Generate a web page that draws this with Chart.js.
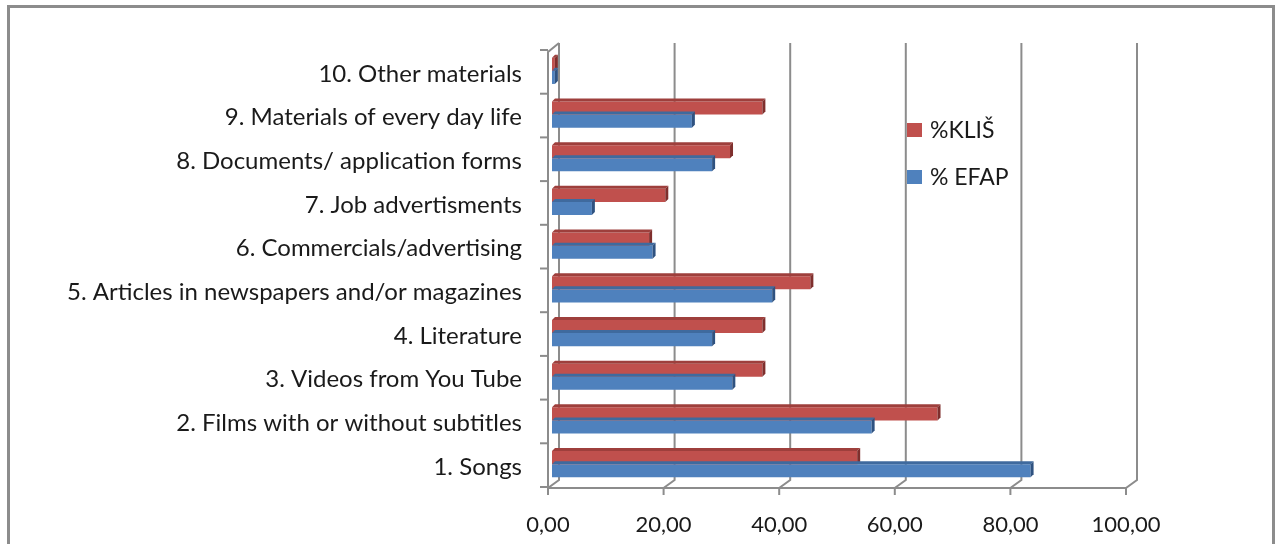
<!DOCTYPE html>
<html>
<head>
<meta charset="utf-8">
<script src="https://cdn.jsdelivr.net/npm/chart.js@4.4.0/dist/chart.umd.min.js"></script>
<style>
  html, body { margin: 0; padding: 0; background: #fff; }
  #wrap { position: relative; width: 1281px; height: 544px; overflow: hidden; }
  #frame { position: absolute; left: 7px; top: 5px; width: 1268px; height: 600px; border: 3px solid #8c8c8c; box-sizing: border-box; }
  canvas { position: absolute; left: 0; top: 0; }
</style>
</head>
<body>
<div id="wrap">
  <div id="frame"></div>
  <canvas id="myChart" width="1281" height="544"></canvas>
</div>
<script>
const categories = [
  '1. Songs',
  '2. Films with or without subtitles',
  '3. Videos from You Tube',
  '4. Literature',
  '5. Articles in newspapers and/or magazines',
  '6. Commercials/advertising',
  '7. Job advertisments',
  '8. Documents/ application forms',
  '9. Materials of every day life',
  '10. Other materials'
]
const kliš = [52.8, 66.7, 36.4, 36.4, 44.7, 16.8, 19.6, 30.8, 36.4, 0.5]
const efap = [82.8, 55.3, 31.2, 27.7, 38.1, 17.4, 6.9, 27.7, 24.2, 0.5]
const xTicks = [0, 20, 40, 60, 80, 100]

const FONT = 'Lato'
const gridColor = '#8c8c8c'

// fake 3D: top face + right side on every bar
const bars3d = {
  id: 'bars3d',
  afterDatasetsDraw(chart) {
    const ctx = chart.ctx
    const d = 3
    chart.data.datasets.forEach((ds, i) => {
      chart.getDatasetMeta(i).data.forEach(bar => {
        const top = bar.y - bar.height / 2
        const bottom = bar.y + bar.height / 2
        ctx.save()
        ctx.fillStyle = ds.topColor
        ctx.beginPath()
        ctx.moveTo(bar.base, top)
        ctx.lineTo(bar.base + d, top - d)
        ctx.lineTo(bar.x + d, top - d)
        ctx.lineTo(bar.x, top)
        ctx.closePath()
        ctx.fill()
        ctx.fillStyle = ds.sideColor
        ctx.beginPath()
        ctx.moveTo(bar.x, top)
        ctx.lineTo(bar.x + d, top - d)
        ctx.lineTo(bar.x + d, bottom - d)
        ctx.lineTo(bar.x, bottom)
        ctx.closePath()
        ctx.fill()
        ctx.restore()
      })
    })
  }
}

// back wall gridlines, floor and left wall
const walls = {
  id: 'walls',
  beforeDatasetsDraw(chart) {
    const ctx = chart.ctx
    const x = chart.scales.x
    const y = chart.scales.y
    const area = chart.chartArea
    const bx = 7, by = -6, fx = -4, fy = 2
    ctx.save()
    ctx.strokeStyle = gridColor
    ctx.lineWidth = 2
    xTicks.forEach(v => {
      const px = x.getPixelForValue(v)
      ctx.beginPath()
      ctx.moveTo(px + bx, area.top + by)
      ctx.lineTo(px + bx, area.bottom + by)
      ctx.lineTo(px + fx, area.bottom + fy)
      ctx.lineTo(px + fx, area.bottom + fy + 7)
      ctx.stroke()
    })
    // floor front edge
    ctx.beginPath()
    ctx.moveTo(x.getPixelForValue(0) + fx, area.bottom + fy)
    ctx.lineTo(x.getPixelForValue(100) + fx, area.bottom + fy)
    ctx.stroke()
    // left wall front edge + top
    const lx = x.getPixelForValue(0) + fx
    ctx.beginPath()
    ctx.moveTo(lx, area.bottom + fy)
    ctx.lineTo(lx, area.top + 3)
    ctx.lineTo(x.getPixelForValue(0) + bx, area.top + by)
    ctx.stroke()
    // category ticks on the wall
    for (let i = 0; i <= categories.length; i++) {
      const py = y.getPixelForValue(i - 0.5) + 1
      ctx.beginPath()
      ctx.moveTo(lx - 8, py)
      ctx.lineTo(lx, py)
      ctx.stroke()
    }
    ctx.restore()
  }
}

// legend sitting inside the plot
const insideLegend = {
  id: 'insideLegend',
  afterDraw(chart) {
    const ctx = chart.ctx
    const items = [[0, 130], [1, 177]]
    ctx.save()
    ctx.font = '23px ' + FONT
    ctx.textBaseline = 'middle'
    items.forEach(([i, cy]) => {
      const ds = chart.data.datasets[i]
      ctx.fillStyle = ds.backgroundColor
      ctx.fillRect(907, cy - 7, 15, 14)
      ctx.fillStyle = '#1a1a1a'
      ctx.fillText(ds.label, 930, cy + 1)
    })
    ctx.restore()
  }
}

const ctx = document.getElementById('myChart').getContext('2d')
const myChart = new Chart(ctx, {
  type: 'bar',
  data: {
    labels: categories,
    datasets: [{
      label: '%KLIŠ',
      data: kliš,
      backgroundColor: '#c0504d',
      topColor: '#9e3f3c',
      sideColor: '#7f2f2d'
    }, {
      label: '% EFAP',
      data: efap,
      backgroundColor: '#4f81bd',
      topColor: '#3f6a9e',
      sideColor: '#2f5280'
    }]
  },
  options: {
    indexAxis: 'y',
    responsive: false,
    animation: false,
    categoryPercentage: 0.6,
    barPercentage: 1,
    layout: { padding: { top: 49, right: 151, left: 0, bottom: 0 } },
    plugins: {
      legend: { display: false },
      tooltip: { enabled: false }
    },
    scales: {
      x: {
        min: 0,
        max: 100,
        afterBuildTicks: s => { s.ticks = xTicks.map(v => ({ value: v })) },
        afterFit: s => { s.height = 58 },
        grid: { display: false },
        border: { display: false },
        ticks: {
          padding: 18,
          labelOffset: -4,
          color: '#1a1a1a',
          font: { family: FONT, size: 22 },
          callback: v => v.toFixed(2).replace('.', ',')
        }
      },
      y: {
        reverse: true,
        afterFit: s => { s.width = 552 },
        grid: { display: false },
        border: { display: false },
        ticks: {
          padding: 22,
          labelOffset: 3,
          color: '#1a1a1a',
          font: { family: FONT, size: 24 }
        }
      }
    }
  },
  plugins: [walls, bars3d, insideLegend]
})
</script>
</body>
</html>
